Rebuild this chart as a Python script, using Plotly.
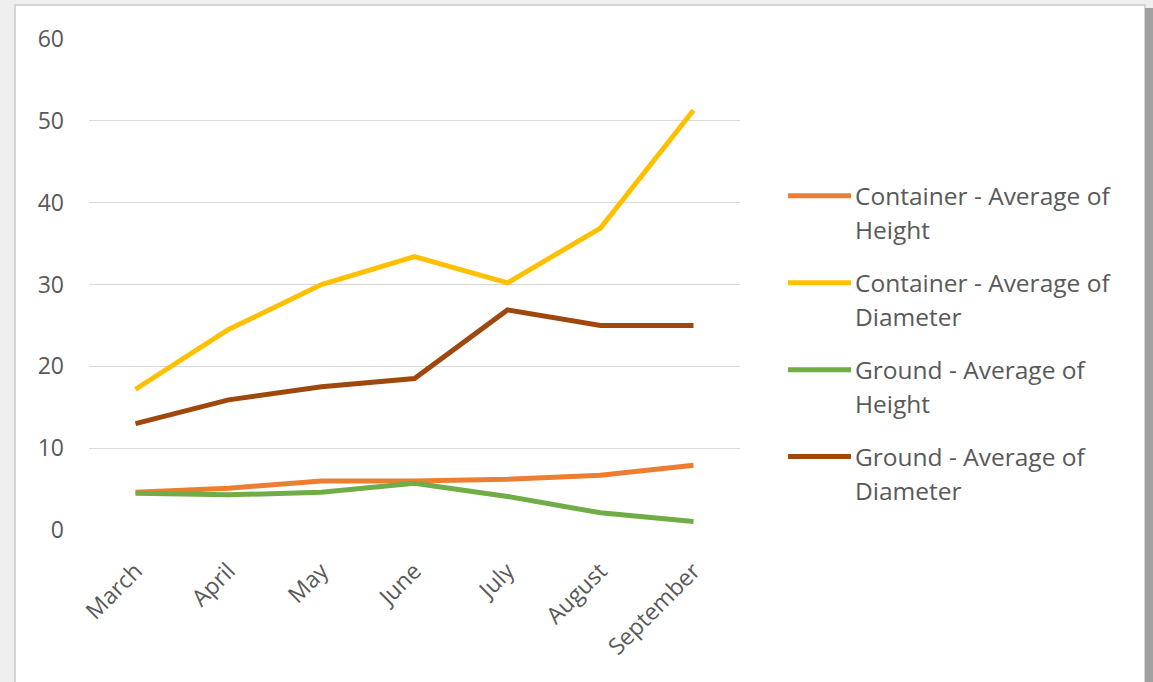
import plotly.graph_objects as go

months = ["March", "April", "May", "June", "July", "August", "September"]
container_height = [4.6, 5.1, 6.0, 6.0, 6.2, 6.7, 7.9]
container_diameter = [17.2, 24.5, 30.0, 33.4, 30.2, 36.9, 51.3]
ground_height = [4.5, 4.3, 4.6, 5.7, 4.1, 2.1, 1.05]
ground_diameter = [13.0, 15.9, 17.5, 18.5, 26.9, 25.0, 25.0]

series_names = [
    ("Container - Average of", "Height"),
    ("Container - Average of", "Diameter"),
    ("Ground - Average of", "Height"),
    ("Ground - Average of", "Diameter"),
]
series_values = [container_height, container_diameter, ground_height, ground_diameter]
colors = ["#ED7D31", "#FFC000", "#70AD47", "#9E480E"]

W, H = 1153, 682
L, R, T, B = 89, 413, 39, 151.5
pw = W - L - R
ph = H - T - B

def px_x(px):
    return (px - L) / pw

def px_y(py):
    return (H - B - py) / ph

fig = go.Figure()
for (n1, n2), vals, c in zip(series_names, series_values, colors):
    fig.add_trace(go.Scatter(x=months, y=vals, mode="lines", name=f"{n1} {n2}",
                             line=dict(color=c, width=5), showlegend=False))

font_family = "Open Sans, Liberation Sans, sans-serif"
shapes = [
    dict(type="rect", xref="paper", yref="paper", layer="below",
         x0=px_x(15), x1=px_x(1145), y0=px_y(700), y1=px_y(5),
         fillcolor="white", line=dict(color="#D4D4D4", width=2)),
    dict(type="rect", xref="paper", yref="paper", layer="below",
         x0=px_x(1145), x1=px_x(1153), y0=px_y(700), y1=px_y(8),
         fillcolor="#A0A0A0", line=dict(width=0)),
]
annotations = []
legend_y = [196, 283, 370, 457]
for (n1, n2), c, ly in zip(series_names, colors, legend_y):
    shapes.append(dict(type="line", xref="paper", yref="paper",
                       x0=px_x(788), x1=px_x(851), y0=px_y(ly), y1=px_y(ly),
                       line=dict(color=c, width=5)))
    annotations.append(dict(xref="paper", yref="paper", x=px_x(853), y=px_y(ly),
                            text=n1, showarrow=False, xanchor="left", yanchor="middle",
                            font=dict(size=24.5, color="#595959", family=font_family)))
    annotations.append(dict(xref="paper", yref="paper", x=px_x(853), y=px_y(ly + 34),
                            text=n2, showarrow=False, xanchor="left", yanchor="middle",
                            font=dict(size=24.5, color="#595959", family=font_family)))

fig.update_layout(
    width=W, height=H,
    margin=dict(l=L, r=R, t=T, b=B, autoexpand=False),
    paper_bgcolor="#EFEFEF",
    plot_bgcolor="rgba(0,0,0,0)",
    shapes=shapes,
    annotations=annotations,
    font=dict(family=font_family, color="#595959", size=23),
    xaxis=dict(showgrid=False, showline=False, zeroline=False, tickangle=-45,
               range=[-0.5, 6.5], ticks="", ticklabelstandoff=22,
               tickfont=dict(size=23, color="#595959"), fixedrange=True),
    yaxis=dict(range=[0, 60], dtick=10, showgrid=True, gridcolor="#D9D9D9", gridwidth=1,
               zeroline=False, showline=False, ticks="", ticklabelstandoff=24,
               tickfont=dict(size=23, color="#595959"), fixedrange=True),
)

fig.write_html("out.html")
